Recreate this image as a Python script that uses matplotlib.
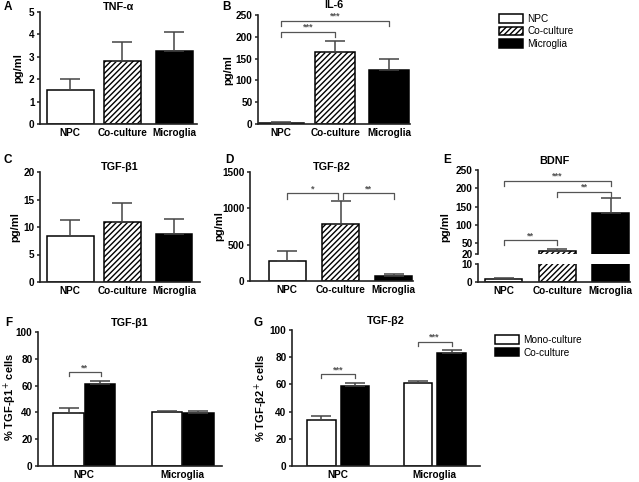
import matplotlib
matplotlib.use("Agg")
import matplotlib.pyplot as plt
from matplotlib.patches import Patch

plt.rcParams['font.family'] = ['Liberation Sans', 'DejaVu Sans']
plt.rcParams['hatch.linewidth'] = 1.0

# ---------------- data ----------------
groups3 = ["NPC", "Co-culture", "Microglia"]
tnf_mean = [1.5, 2.8, 3.27]
tnf_top = [2.0, 3.65, 4.12]
il6_mean = [3, 165, 125]
il6_top = [5, 190, 148]
tgfb1_mean = [8.3, 11.0, 8.8]
tgfb1_top = [11.2, 14.4, 11.4]
tgfb2_mean = [280, 785, 75]
tgfb2_top = [415, 1100, 95]
bdnf_mean = [1.5, 27, 132]
bdnf_top = [2.0, 35, 172]

groups2 = ["NPC", "Microglia"]
f_mono = [39.5, 40.2]
f_mono_top = [43.0, 41.0]
f_co = [61.5, 39.5]
f_co_top = [63.8, 40.8]
g_mono = [34.0, 61.0]
g_mono_top = [37.0, 62.5]
g_co = [59.0, 83.0]
g_co_top = [61.0, 85.5]

# ---------------- style ----------------
W, H = 639, 482
fig = plt.figure(figsize=(W / 100, H / 100), dpi=100)
SPC = '#222222'
ERC = '#444444'
BRC = '#555555'
FS = 7.2
styles3 = [dict(facecolor='white', hatch=None),
           dict(facecolor='white', hatch='//////'),
           dict(facecolor='black', hatch=None)]


def axes_px(l, t, r, b):
    return fig.add_axes([l / W, 1 - b / H, (r - l) / W, (b - t) / H])


def style_ax(ax, bottom=True):
    for s in ['top', 'right']:
        ax.spines[s].set_visible(False)
    for s in ['left', 'bottom']:
        ax.spines[s].set_color(SPC)
        ax.spines[s].set_linewidth(1.2)
    if not bottom:
        ax.spines['bottom'].set_visible(False)
    ax.tick_params(axis='y', direction='out', length=2.5, width=1.1,
                   color=SPC, labelsize=FS, pad=1.5)
    ax.tick_params(axis='x', direction='out', length=0, width=1.1,
                   color=SPC, labelsize=FS, pad=3)
    for lab in ax.get_xticklabels() + ax.get_yticklabels():
        lab.set_fontweight('bold')


def bars3(ax, means, tops, widths):
    for i, (m, t, w) in enumerate(zip(means, tops, widths)):
        st = styles3[i]
        ax.bar(i, m, width=w, color=st['facecolor'], edgecolor='black',
               hatch=st['hatch'], linewidth=1.1, zorder=2)
        ax.errorbar(i, m, yerr=[[0], [t - m]], fmt='none', ecolor=ERC,
                    elinewidth=1.1, capsize=7, capthick=1.1, zorder=3)


def bracket(ax, x1, x2, y, h, txt):
    ax.plot([x1, x1, x2, x2], [y - h, y, y, y - h], color=BRC, lw=0.9,
            clip_on=False, zorder=4)
    ax.text((x1 + x2) / 2, y, txt, ha='center', va='bottom', color=BRC,
            fontsize=6.5, fontweight='bold')


def ylab(x, y, s):
    fig.text(x / W, 1 - y / H, s, rotation=90, fontsize=8,
             fontweight='bold', ha='center', va='center')


def finish3(ax, title, pad=1.5):
    ax.set_xticks(range(3))
    ax.set_xticklabels(groups3)
    ax.set_title(title, fontsize=7.8, fontweight='bold', pad=pad)
    style_ax(ax)


def letter(x, y, s):
    fig.text(x / W, 1 - y / H, s, fontsize=8.5, fontweight='bold',
             ha='left', va='center')


# A
ax = axes_px(40, 12, 197, 124)
bars3(ax, tnf_mean, tnf_top, [0.9, 0.71, 0.71])
ax.set_xlim(-0.58, 2.44)
ax.set_ylim(0, 5)
ax.set_yticks(range(0, 6))
finish3(ax, "TNF-α")
ylab(18, 68, "pg/ml")
letter(4, 7, "A")

# B
ax = axes_px(258, 15, 410, 124)
bars3(ax, il6_mean, il6_top, [0.83, 0.74, 0.74])
ax.set_xlim(-0.43, 2.39)
ax.set_ylim(0, 250)
ax.set_yticks(range(0, 251, 50))
bracket(ax, 0, 1, 212, 12, "***")
bracket(ax, 0, 2, 237, 12, "***")
finish3(ax, "IL-6", pad=5)
ylab(228, 70, "pg/ml")
letter(222, 7, "B")

# C
ax = axes_px(40, 172, 200, 282)
bars3(ax, tgfb1_mean, tgfb1_top, [0.9, 0.71, 0.71])
ax.set_xlim(-0.58, 2.5)
ax.set_ylim(0, 20)
ax.set_yticks(range(0, 21, 5))
finish3(ax, "TGF-β1")
ylab(15, 227, "pg/ml")
letter(4, 160, "C")

# D
ax = axes_px(250, 172, 413, 281)
bars3(ax, tgfb2_mean, tgfb2_top, [0.7, 0.7, 0.7])
ax.set_xlim(-0.7, 2.36)
ax.set_ylim(0, 1500)
ax.set_yticks(range(0, 1501, 500))
bracket(ax, 0, 0.95, 1210, 80, "*")
bracket(ax, 1.05, 2, 1210, 80, "**")
finish3(ax, "TGF-β2")
ylab(219, 226, "pg/ml")
letter(225, 160, "D")

# E (broken axis)
axt = axes_px(478, 170, 630, 254)
axb = axes_px(478, 264, 630, 282)
for a in (axt, axb):
    bars3(a, bdnf_mean, bdnf_top, [0.69, 0.69, 0.69])
    a.set_xlim(-0.48, 2.36)
axt.set_ylim(20, 250)
axt.set_yticks([20, 50, 100, 150, 200, 250])
axt.set_xticks([])
style_ax(axt, bottom=False)
axt.set_title("BDNF", fontsize=7.8, fontweight='bold', pad=4)
bracket(axt, 0, 1, 58, 14, "**")
bracket(axt, 1, 2, 190, 14, "**")
bracket(axt, 0, 2, 220, 14, "***")
axb.set_ylim(0, 10)
axb.set_yticks([0, 10])
axb.set_xticks(range(3))
axb.set_xticklabels(groups3)
style_ax(axb)
ylab(445, 227, "pg/ml")
letter(443, 160, "E")


# F & G
def bars2(ax, mono, mono_top, co, co_top, off, w):
    for i in range(len(mono)):
        ax.bar(i - off, mono[i], width=w, color='white', edgecolor='black',
               linewidth=1.1, zorder=2)
        ax.bar(i + off, co[i], width=w, color='black', edgecolor='black',
               linewidth=1.1, zorder=2)
        ax.errorbar(i - off, mono[i], yerr=[[0], [mono_top[i] - mono[i]]],
                    fmt='none', ecolor=ERC, elinewidth=1.1, capsize=7,
                    capthick=1.1, zorder=3)
        ax.errorbar(i + off, co[i], yerr=[[0], [co_top[i] - co[i]]],
                    fmt='none', ecolor=ERC, elinewidth=1.1, capsize=7,
                    capthick=1.1, zorder=3)
    ax.set_xticks(range(len(mono)))
    ax.set_xticklabels(groups2)
    ax.set_ylim(0, 100)
    ax.set_yticks(range(0, 101, 20))


ax = axes_px(38, 332, 222, 466)
bars2(ax, f_mono, f_mono_top, f_co, f_co_top, 0.16, 0.31)
ax.set_xlim(-0.47, 1.4)
bracket(ax, -0.16, 0.17, 70, 3, "**")
ax.set_title("TGF-β1", fontsize=7.8, fontweight='bold', pad=4)
style_ax(ax)
ylab(10, 397, "% TGF-β1$^{+}$ cells")
letter(5, 323, "F")

ax = axes_px(292, 330, 480, 466)
bars2(ax, g_mono, g_mono_top, g_co, g_co_top, 0.175, 0.295)
ax.set_xlim(-0.48, 1.47)
bracket(ax, -0.175, 0.175, 67.5, 3, "***")
bracket(ax, 0.825, 1.175, 91.5, 3, "***")
ax.set_title("TGF-β2", fontsize=7.8, fontweight='bold', pad=4)
style_ax(ax)
ylab(261, 398, "% TGF-β2$^{+}$ cells")
letter(254, 323, "G")

# legends
h1 = [Patch(facecolor=st['facecolor'], edgecolor='black', hatch=st['hatch'],
            linewidth=1.1) for st in styles3]
fig.legend(h1, groups3, loc='upper left',
           bbox_to_anchor=(494 / W, 1 - 9 / H), frameon=False, fontsize=7.2,
           handlelength=2.4, handleheight=0.9, labelspacing=0.25,
           handletextpad=0.4, borderpad=0)
h2 = [Patch(facecolor='white', edgecolor='black', linewidth=1.1),
      Patch(facecolor='black', edgecolor='black', linewidth=1.1)]
fig.legend(h2, ["Mono-culture", "Co-culture"], loc='upper left',
           bbox_to_anchor=(490 / W, 1 - 330 / H), frameon=False, fontsize=7.2,
           handlelength=2.4, handleheight=0.9, labelspacing=0.25,
           handletextpad=0.4, borderpad=0)

fig.savefig("out.png", dpi=100)
